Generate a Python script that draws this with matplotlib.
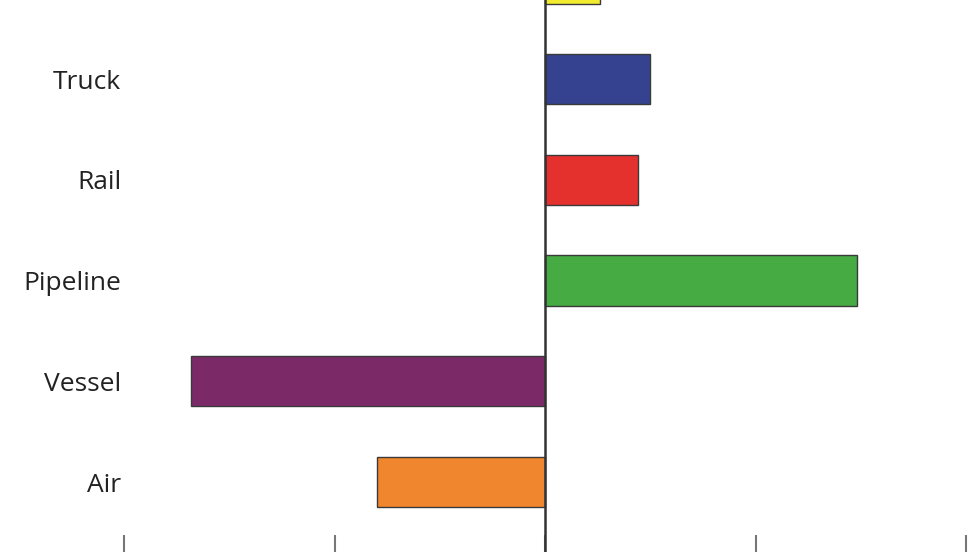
import matplotlib.pyplot as plt

# categories, bottom to top
categories = ["Air", "Vessel", "Pipeline", "Rail", "Truck", "Multiple modes"]
values = [-4.0, -8.4, 7.4, 2.2, 2.5, 1.3]
colors = ["#f0862e", "#7b2a67", "#45ab42", "#e5312e", "#35428f", "#f2ea2e"]
xticks = [-10, -5, 0, 5, 10]

plt.rcParams['font.family'] = ['Open Sans', 'DejaVu Sans']

fig = plt.figure(figsize=(9.8, 5.52), dpi=100)
ax = fig.add_axes([124 / 980, 0, 842 / 980, 1])

ypos = list(range(len(categories)))
ax.barh(ypos, values, height=0.5, color=colors, edgecolor="#3a3a3a", linewidth=1.0, zorder=2)
ax.axvline(0, color="#333333", lw=1.8, zorder=3)

ax.set_yticks(ypos)
ax.set_yticklabels(categories, fontsize=19, color="#222222")
ax.tick_params(axis="y", length=0, pad=2)

ax.set_xticks(xticks)
ax.set_xticklabels([])
ax.tick_params(axis="x", direction="in", length=12.5, width=1.5, color="#777777")

# limits after set_yticks, otherwise the top tick widens the view
ax.set_xlim(-10, 10)
ax.set_ylim((482 - 552) / 100.7, 482 / 100.7)

for s in ax.spines.values():
    s.set_visible(False)

fig.savefig("out.png", dpi=100)
